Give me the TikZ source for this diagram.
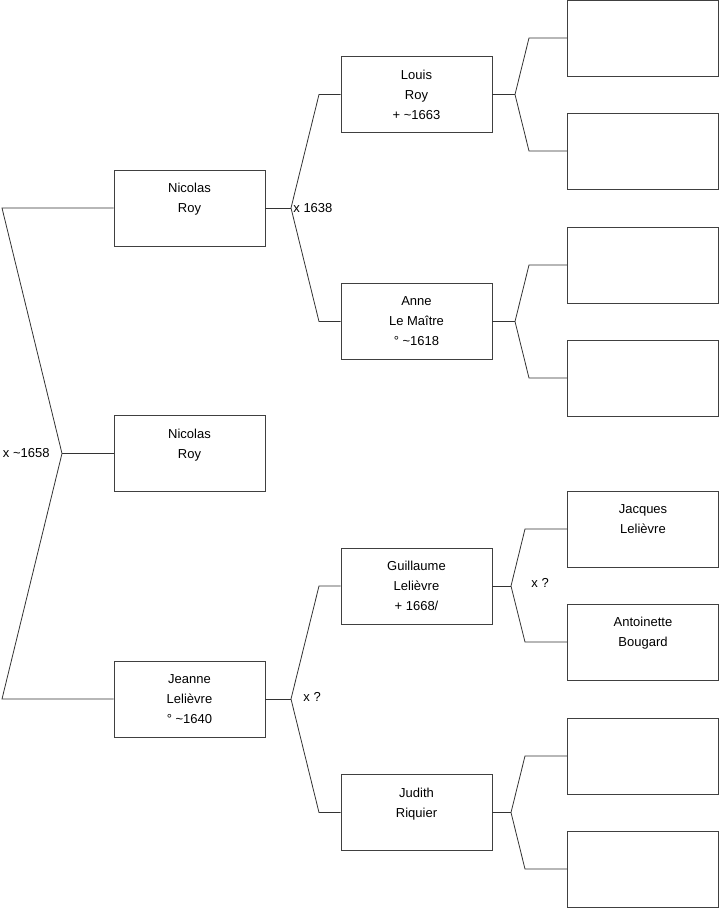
\documentclass[tikz,border=0pt]{standalone}
\usepackage{fontspec}
\setmainfont{Liberation Sans}
\begin{document}
\begin{tikzpicture}[x=1pt, y=-1pt, line width=0.8pt,
  person/.style={draw=black!75, fill=white, minimum width=151pt, minimum height=76pt,
    inner sep=0pt, align=center, font=\fontsize{13}{20}\selectfont},
  link/.style={draw=black!80},
  union/.style={inner sep=0pt, font=\fontsize{13}{16}\selectfont}]
\useasboundingbox (0,0) rectangle (719,908);
% Generation 1
\node[person] (nicolasF) at (189.5,208) {Nicolas\\Roy\\\mbox{}};
\node[person] (nicolas) at (189.5,453.5) {Nicolas\\Roy\\\mbox{}};
\node[person] (jeanne) at (189.5,699) {Jeanne\\Leli\`evre\\° \textasciitilde1640};
% Generation 2
\node[person] (louis) at (416.5,94.5) {Louis\\Roy\\+ \textasciitilde1663};
\node[person] (anne) at (416.5,321.5) {Anne\\Le Ma\^itre\\° \textasciitilde1618};
\node[person] (guillaume) at (416.5,586) {Guillaume\\Leli\`evre\\+ 1668/};
\node[person] (judith) at (416.5,812.5) {Judith\\Riquier\\\mbox{}};
% Generation 3
\node[person] (louisF) at (643,38) {};
\node[person] (louisM) at (643,151) {};
\node[person] (anneF) at (643,265) {};
\node[person] (anneM) at (643,378) {};
\node[person] (jacques) at (643,529) {Jacques\\Leli\`evre\\\mbox{}};
\node[person] (antoinette) at (643,642) {Antoinette\\Bougard\\\mbox{}};
\node[person] (judithF) at (643,756) {};
\node[person] (judithM) at (643,869) {};
% Root couple
\coordinate (r0) at (62,453.5);
\coordinate (r1) at (2,208);
\coordinate (r2) at (2,699);
\draw[link] (nicolasF.west) -- (r1) -- (r0) -- (r2) -- (jeanne.west);
\draw[link] (r0) -- (nicolas.west);
\node[union, anchor=east] (m0) at (50,453.5) {x \textasciitilde1658};
% Nicolas x Anne
\coordinate (a0) at (291,208);
\coordinate (a1) at (319,94.5);
\coordinate (a2) at (319,321.5);
\draw[link] (nicolasF.east) -- (a0);
\draw[link] (louis.west) -- (a1) -- (a0) -- (a2) -- (anne.west);
\node[union, anchor=west] (m1) at (293,208) {x 1638};
% Louis
\coordinate (b0) at (515,94.5);
\coordinate (b1) at (529,38);
\coordinate (b2) at (529,151);
\draw[link] (louis.east) -- (b0);
\draw[link] (louisF.west) -- (b1) -- (b0) -- (b2) -- (louisM.west);
% Anne
\coordinate (c0) at (515,321.5);
\coordinate (c1) at (529,265);
\coordinate (c2) at (529,378);
\draw[link] (anne.east) -- (c0);
\draw[link] (anneF.west) -- (c1) -- (c0) -- (c2) -- (anneM.west);
% Jeanne
\coordinate (d0) at (291,699);
\coordinate (d1) at (319,586);
\coordinate (d2) at (319,812.5);
\draw[link] (jeanne.east) -- (d0);
\draw[link] (guillaume.west) -- (d1) -- (d0) -- (d2) -- (judith.west);
\node[union, anchor=west] (m2) at (303,697) {x ?};
% Guillaume
\coordinate (e0) at (511,586);
\coordinate (e1) at (525,529);
\coordinate (e2) at (525,642);
\draw[link] (guillaume.east) -- (e0);
\draw[link] (jacques.west) -- (e1) -- (e0) -- (e2) -- (antoinette.west);
\node[union, anchor=west] (m3) at (531,583) {x ?};
% Judith
\coordinate (f0) at (511,812.5);
\coordinate (f1) at (525,756);
\coordinate (f2) at (525,869);
\draw[link] (judith.east) -- (f0);
\draw[link] (judithF.west) -- (f1) -- (f0) -- (f2) -- (judithM.west);
\end{tikzpicture}
\end{document}
